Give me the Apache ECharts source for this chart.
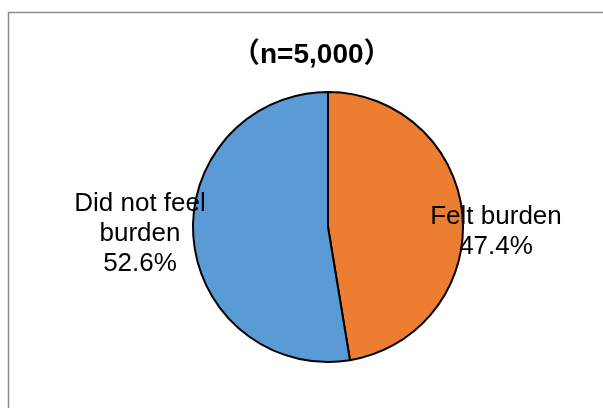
<!DOCTYPE html>
<html>
<head>
<meta charset="utf-8">
<script src="https://cdn.jsdelivr.net/npm/echarts@6/dist/echarts.min.js"></script>
<style>
html,body{margin:0;padding:0;background:#fff;}
#chart{width:603px;height:408px;}
</style>
</head>
<body>
<div id="chart"></div>
<script>
const titleText = '（n=5,000）';
const categories = ['Felt burden', 'Did not feel\nburden'];
const values = [47.4, 52.6];
const colors = ['#ED7D31', '#5B9BD5'];

const labelPos = [
  {x: 496, y: 232},
  {x: 140, y: 234}
];

const chart = echarts.init(document.getElementById('chart'), null, {renderer: 'canvas'});
chart.setOption({
  backgroundColor: '#ffffff',
  animation: false,
  title: {
    text: titleText,
    left: 227,
    top: 36,
    textStyle: {
      fontFamily: '"Liberation Sans", "Noto Sans CJK JP", Arial, sans-serif',
      fontWeight: 'bold',
      fontSize: 28,
      color: '#000'
    }
  },
  graphic: [{
    type: 'rect',
    shape: {x: 8.5, y: 12.5, width: 700, height: 500},
    style: {fill: 'none', stroke: '#8c8c8c', lineWidth: 1.5},
    silent: true
  }],
  series: [{
    type: 'pie',
    center: [328, 227],
    radius: 135,
    startAngle: 90,
    clockwise: true,
    data: categories.map((c, i) => ({name: c, value: values[i], itemStyle: {color: colors[i]}})),
    itemStyle: {borderColor: '#000', borderWidth: 2},
    label: {
      show: true,
      position: 'inside',
      formatter: '{b}\n{d}%',
      fontFamily: '"Liberation Sans", Arial, sans-serif',
      fontSize: 26,
      lineHeight: 30,
      color: '#000',
      align: 'center'
    },
    labelLine: {show: false},
    labelLayout: function (params) {
      const p = labelPos[params.dataIndex];
      return {x: p.x, y: p.y, align: 'center', verticalAlign: 'middle'};
    },
    emphasis: {disabled: true}
  }]
});
</script>
</body>
</html>
